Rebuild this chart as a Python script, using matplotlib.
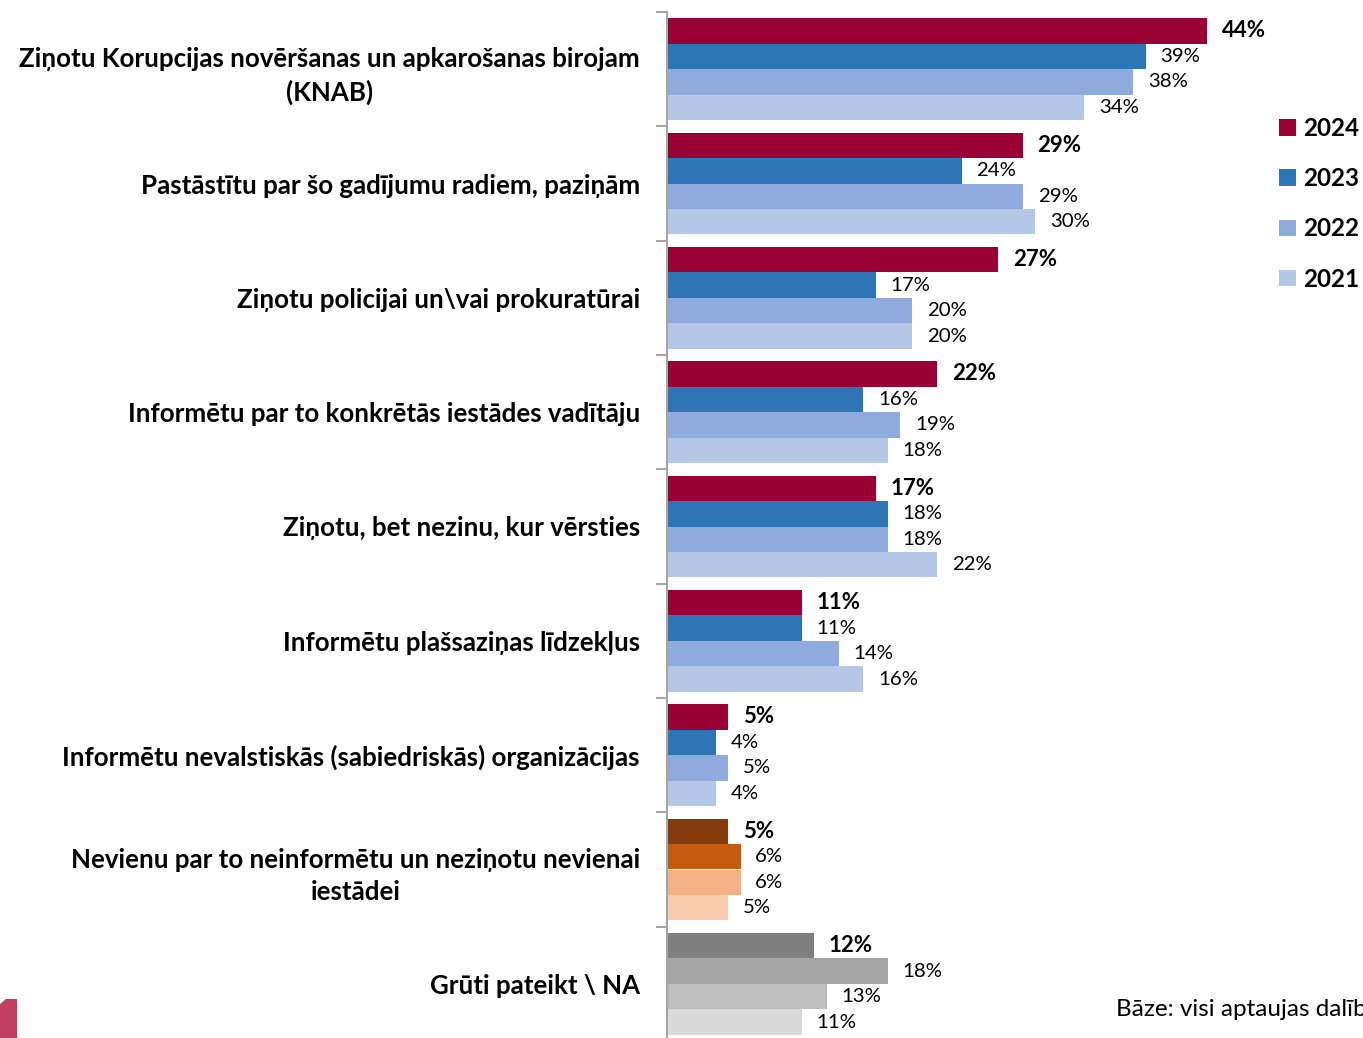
import matplotlib.pyplot as plt
from matplotlib.patches import Patch, Polygon
import numpy as np

plt.rcParams['font.family'] = ['Lato', 'DejaVu Sans']

kategorijas = [
    "Ziņotu Korupcijas novēršanas un apkarošanas birojam\n(KNAB)",
    "Pastāstītu par šo gadījumu radiem, paziņām",
    "Ziņotu policijai un\\vai prokuratūrai",
    "Informētu par to konkrētās iestādes vadītāju",
    "Ziņotu, bet nezinu, kur vērsties",
    "Informētu plašsaziņas līdzekļus",
    "Informētu nevalstiskās (sabiedriskās) organizācijas",
    "Nevienu par to neinformētu un neziņotu nevienai\niestādei",
    "Grūti pateikt \\ NA",
]
gadi = ["2024", "2023", "2022", "2021"]
v2024 = [44, 29, 27, 22, 17, 11, 5, 5, 12]
v2023 = [39, 24, 17, 16, 18, 11, 4, 6, 18]
v2022 = [38, 29, 20, 19, 18, 14, 5, 6, 13]
v2021 = [34, 30, 20, 18, 22, 16, 4, 5, 11]
vertibas = [v2024, v2023, v2022, v2021]

krasas = ["#990033", "#2E75B6", "#8FAADC", "#B4C7E7"]
krasas_nevienu = ["#843C0C", "#C55A11", "#F4B183", "#F8CBAD"]
krasas_gruti = ["#7F7F7F", "#A5A5A5", "#BFBFBF", "#D9D9D9"]

fig = plt.figure(figsize=(13.63, 10.38), dpi=100)
ax = fig.add_axes([667 / 1363, -3 / 1038, 613.6 / 1363, 1029 / 1038])

y = np.arange(len(kategorijas))
h = 0.223
nobide = [-1.5 * h, -0.5 * h, 0.5 * h, 1.5 * h]

for j, vals in enumerate(vertibas):
    cols = [krasas[j]] * len(vals)
    cols[7] = krasas_nevienu[j]
    cols[8] = krasas_gruti[j]
    ax.barh(y + nobide[j], vals, height=h, color=cols, edgecolor='none')
    for i, v in enumerate(vals):
        ax.text(v + 1.2, y[i] + nobide[j], f"{v}%", va='center', ha='left',
                fontsize=16 if j == 0 else 14.7,
                fontweight='bold' if j == 0 else 'normal', color='black')

ax.set_xlim(0, 50)
ax.set_ylim(len(kategorijas) - 0.5, -0.5)
ax.set_yticks(y)
ax.set_yticklabels(kategorijas, fontsize=18.6, fontweight='bold',
                   multialignment='center', linespacing=1.45)
ax.set_yticks(np.arange(-0.5, len(kategorijas)), minor=True)
ax.tick_params(axis='y', which='major', length=0, pad=19.5)
ax.tick_params(axis='y', which='minor', length=8, width=1.5, color='#A6A6A6', direction='out')
ax.set_xticks([])
for s in ['top', 'right', 'bottom']:
    ax.spines[s].set_visible(False)
ax.spines['left'].set_color('#A6A6A6')
ax.spines['left'].set_linewidth(1.5)

rokturi = [Patch(facecolor=c, edgecolor='none') for c in krasas]
leg = fig.legend(rokturi, gadi, loc='upper left', bbox_to_anchor=(1279 / 1363, 1 - 117 / 1038),
                 frameon=False, prop={'size': 17.5, 'weight': 'bold'},
                 handlelength=0.68, handleheight=0.68, handletextpad=0.3, labelspacing=1.12,
                 borderaxespad=0, borderpad=0)

fig.text(1116 / 1363, 1 - 1010 / 1038, "Bāze: visi aptaujas dalībnieki", fontsize=17.5,
         va='center', ha='left')

# logo fragments apakšējā kreisajā stūrī
fig.add_artist(Polygon([[0, 1 - 1004 / 1038], [6 / 1363, 1 - 999 / 1038], [17 / 1363, 1 - 999 / 1038],
                        [17 / 1363, 0], [0, 0]], closed=True, transform=fig.transFigure,
                       facecolor="#C0405F", edgecolor='none'))

fig.savefig("out.png", dpi=100)
